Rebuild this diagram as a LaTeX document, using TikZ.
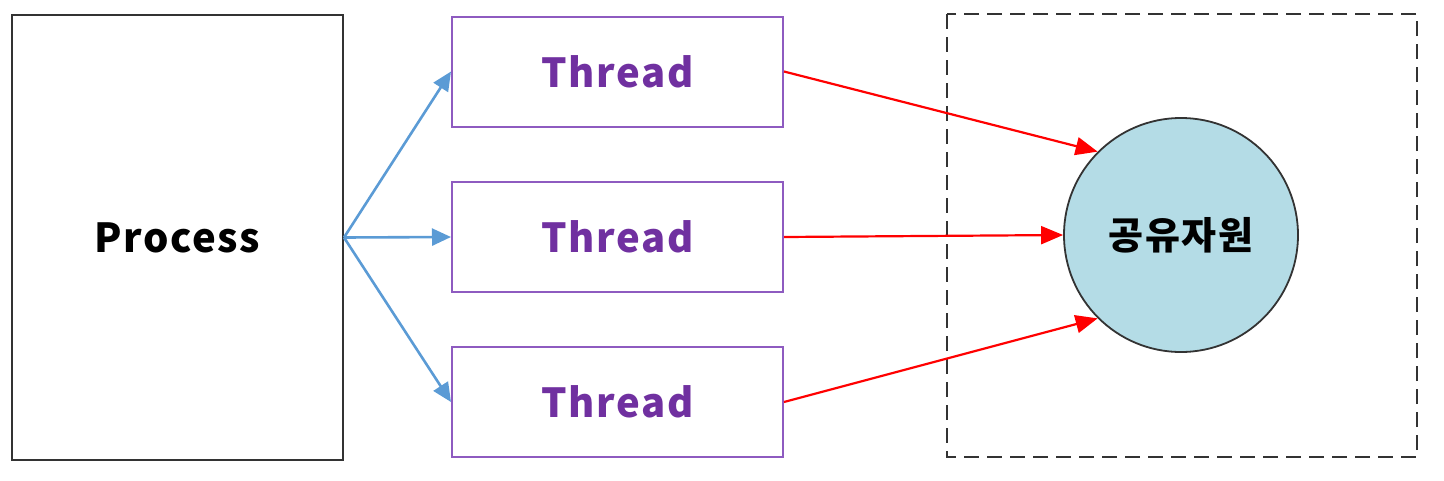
\documentclass[tikz,border=0pt]{standalone}
\usepackage{fontspec}
\setmainfont{Noto Sans CJK KR}[LetterSpace=4]
\usetikzlibrary{arrows.meta}
\definecolor{thpurple}{HTML}{7030A0}
\definecolor{thborder}{HTML}{8E5BC0}
\definecolor{arblue}{HTML}{5B9BD5}
\definecolor{circfill}{HTML}{B4DCE6}
\tikzset{
  procbox/.style={draw=black!80, line width=2pt, minimum width=331pt, minimum height=445pt, inner sep=0pt, font=\fontsize{40}{48}\selectfont\bfseries},
  thbox/.style={draw=thborder, line width=2pt, minimum width=331pt, minimum height=110pt, inner sep=0pt, text=thpurple, font=\fontsize{40}{48}\selectfont\bfseries},
  resnode/.style={circle, draw=black!80, line width=1.8pt, fill=circfill, minimum size=234pt, inner sep=0pt, font=\fontsize{38}{46}\selectfont\bfseries},
  zonebox/.style={draw=black!80, line width=2pt, dash pattern=on 15pt off 8pt},
  bluearr/.style={draw=arblue, line width=2.6pt, -{Triangle[length=19pt,width=17pt]}},
  redarr/.style={draw=red, line width=2.2pt, -{Triangle[length=22pt,width=18pt]}}
}
\begin{document}
\begin{tikzpicture}[x=1pt,y=-1pt]
\useasboundingbox (0,0) rectangle (1444,480);
\node[procbox] (proc) at (177.5,237.5) {Process};
\node[thbox] (t1) at (617.5,71.5) {Thread};
\node[thbox] (t2) at (617.5,237) {Thread};
\node[thbox] (t3) at (617.5,402) {Thread};
\draw[zonebox] (947,14) rectangle (1417,457);
\node[resnode] (res) at (1181,235) {공유자원};
\coordinate (fork) at (proc.east);
\draw[bluearr] (fork) -- (t1.west);
\draw[bluearr] (fork) -- (t2.west);
\draw[bluearr] (fork) -- (t3.west);
\draw[redarr] (t1.east) -- (res.135);
\draw[redarr] (t2.east) -- (res.west);
\draw[redarr] (t3.east) -- (res.225);
\end{tikzpicture}
\end{document}
